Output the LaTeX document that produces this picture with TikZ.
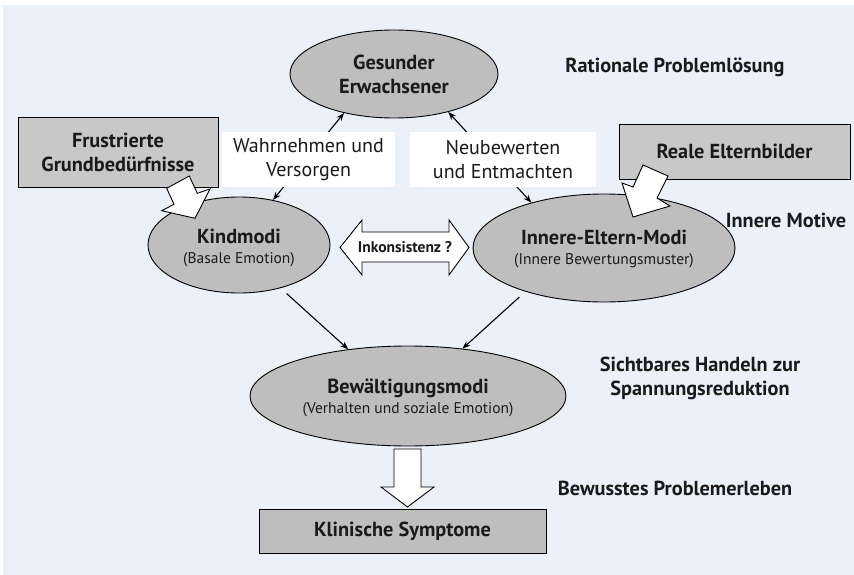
\documentclass[tikz,border=0pt]{standalone}
\usepackage{fontspec}
\setmainfont{PT Sans}
\usetikzlibrary{shapes.geometric,arrows.meta}
\definecolor{bgblue}{HTML}{EBF0F9}
\definecolor{ellgray}{HTML}{BEBEBE}
\definecolor{boxgray}{HTML}{C8C8C8}
\definecolor{txt}{HTML}{1A1A1A}
\newcommand{\bigb}{\fontsize{20.3}{24}\selectfont\bfseries}
\newcommand{\smallr}{\fontsize{15.5}{24}\selectfont\mdseries}
\begin{document}
\begin{tikzpicture}[x=1pt,y=-1pt,
  ell/.style={ellipse,draw=black,line width=0.9pt,fill=ellgray,inner sep=0pt,align=center,text=txt},
  gbox/.style={rectangle,draw=black,line width=0.9pt,fill=boxgray,inner sep=0pt,align=center,text=txt},
  wbox/.style={rectangle,fill=white,inner sep=0pt,align=center,text=txt},
  lbl/.style={align=center,text=txt,inner sep=0pt,font=\bigb},
  etxt/.style={align=center,text=txt,inner sep=0pt,font=\fontsize{15.5}{20}\selectfont},
  conn/.style={line width=1.1pt,-{Stealth[length=8pt,width=6pt]}},
  conn2/.style={line width=1.1pt,{Stealth[length=8pt,width=6pt]}-{Stealth[length=8pt,width=6pt]}},
  blk/.style={fill=white,draw=black,line width=0.9pt,line join=miter},
  big/.style={font=\bigb},
  reg/.style={font=\fontsize{20}{24}\selectfont}
]
\useasboundingbox (0,0) rectangle (854,575);
\fill[white] (0,0) rectangle (854,575);
\fill[bgblue] (3,5) rectangle (854,575);

% nodes
\node[ell,minimum width=208pt,minimum height=88pt,big] (ges) at (394,74) {Gesunder\\Erwachsener};
\node[ell,minimum width=182pt,minimum height=96pt] (kind) at (239,245) {};
\node[ell,minimum width=262pt,minimum height=108pt] (inn) at (604,248) {};
\node[ell,minimum width=316pt,minimum height=100pt] (bew) at (408,396) {};

% connectors
\draw[conn2] (kind.53) -- (ges.218.5);
\draw[conn2] (ges.-35) -- (inn.148);
\draw[conn,shorten <=8pt] (kind.-46) -- (bew.142.7);
\draw[conn,shorten <=8pt] (inn.-151) -- (bew.41.6);

% white label boxes
\node[wbox,minimum width=173pt,minimum height=55pt,reg] (wahr) at (308.5,159.5) {Wahrnehmen und\\Versorgen};
\node[wbox,minimum width=186pt,minimum height=55pt,reg] (neu) at (503,159.5) {Neubewerten\\und Entmachten};

% texts in ellipses
\node[etxt] (kindt) at (239,248) {{\bigb Kindmodi}\\{\smallr (Basale Emotion)}};
\node[etxt] (innt) at (604,249) {{\bigb Innere-Eltern-Modi}\\{\smallr (Innere Bewertungsmuster)}};
\node[etxt] (bewt) at (408,398) {{\bigb Bewältigungsmodi}\\{\smallr (Verhalten und soziale Emotion)}};

% gray boxes
\node[gbox,minimum width=200pt,minimum height=70pt,big] (fru) at (118,152) {Frustrierte\\Grundbedürfnisse};
\node[gbox,minimum width=231pt,minimum height=55pt,big] (rea) at (734.5,151.5) {Reale Elternbilder};
\node[gbox,fill=ellgray,minimum width=287pt,minimum height=44pt,big] (kli) at (402.5,531) {Klinische Symptome};

% block arrows
\draw[blk] (166.7,188.3) -- (189.3,176) -- (197.3,193.3) -- (210,189) -- (195,218.3) -- (161.7,210.7) -- (174,204.3) -- cycle;
\draw[blk] (643,165) -- (668,176) -- (657,198) -- (670,206) -- (633,217) -- (622,183) -- (633,187) -- cycle;
\draw[blk] (394,449) -- (421,449) -- (421,487) -- (434,487) -- (407.5,507) -- (381,487) -- (394,487) -- cycle;
\draw[blk] (340,247.5) -- (362,220) -- (362,232) -- (449,232) -- (449,220) -- (469,247.5) -- (449,275) -- (449,262) -- (362,262) -- (362,275) -- cycle;
\node[text=txt,inner sep=0pt,font=\fontsize{15.5}{18}\selectfont\bfseries] (ink) at (405,247) {Inkonsistenz ?};

% side labels
\node[lbl] (rat) at (675,67) {Rationale Problemlösung};
\node[lbl] (mot) at (786,220) {Innere Motive};
\node[lbl] (sic) at (700,378) {Sichtbares Handeln zur\\Spannungsreduktion};
\node[lbl] (bwu) at (675,488) {Bewusstes Problemerleben};
\end{tikzpicture}
\end{document}
